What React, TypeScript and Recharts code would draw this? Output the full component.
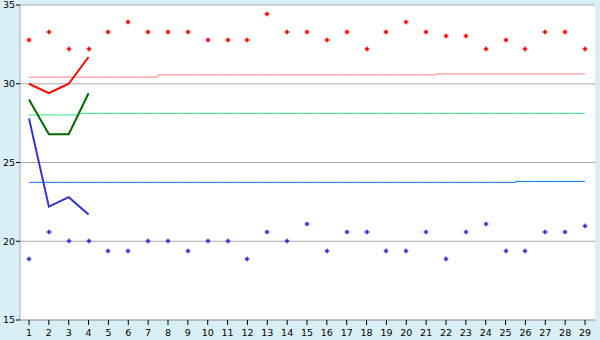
import { CartesianGrid, ComposedChart, Line, XAxis, YAxis } from "recharts";

const categories = Array.from({ length: 29 }, (_, i) => String(i + 1));

// short measured runs, first four days only
const redRun = [30.0, 29.4, 30.0, 31.7];
const greenRun = [29.0, 26.8, 26.8, 29.4];
const blueRun = [27.8, 22.2, 22.8, 21.7];

// daily readings
const redPoints = [
  32.8, 33.3, 32.2, 32.2, 33.3, 33.9, 33.3, 33.3, 33.3, 32.8, 32.8, 32.8, 34.4, 33.3, 33.3,
  32.8, 33.3, 32.2, 33.3, 33.9, 33.3, 33.0, 33.0, 32.2, 32.8, 32.2, 33.3, 33.3, 32.2,
];
const bluePoints = [
  18.9, 20.6, 20.0, 20.0, 19.4, 19.4, 20.0, 20.0, 19.4, 20.0, 20.0, 18.9, 20.6, 20.0, 21.1,
  19.4, 20.6, 20.6, 19.4, 19.4, 20.6, 18.9, 20.6, 21.1, 19.4, 19.4, 20.6, 20.6, 21.0,
];

// long-term averages (nearly flat)
const pinkAvg = [
  30.42, 30.42, 30.42, 30.42, 30.42, 30.42, 30.42, 30.56, 30.56, 30.56, 30.56, 30.56, 30.56,
  30.56, 30.56, 30.56, 30.56, 30.56, 30.56, 30.56, 30.56, 30.62, 30.62, 30.62, 30.62, 30.62,
  30.62, 30.62, 30.62,
];
const greenAvg = [
  28.02, 28.02, 28.02, 28.12, 28.12, 28.12, 28.12, 28.12, 28.12, 28.12, 28.12, 28.12, 28.12,
  28.12, 28.12, 28.12, 28.12, 28.12, 28.12, 28.12, 28.12, 28.12, 28.12, 28.12, 28.12, 28.12,
  28.12, 28.12, 28.12,
];
const blueAvg = [
  23.74, 23.74, 23.74, 23.74, 23.74, 23.74, 23.74, 23.74, 23.74, 23.74, 23.74, 23.74, 23.74,
  23.74, 23.74, 23.74, 23.74, 23.74, 23.74, 23.74, 23.74, 23.74, 23.74, 23.74, 23.74, 23.8,
  23.8, 23.8, 23.8,
];

const yTicks = [15, 20, 25, 30, 35];

const data = categories.map((cat, i) => ({
  cat,
  redRun: redRun[i] ?? null,
  greenRun: greenRun[i] ?? null,
  blueRun: blueRun[i] ?? null,
  redPts: redPoints[i],
  bluePts: bluePoints[i],
  pinkAvg: pinkAvg[i],
  greenAvg: greenAvg[i],
  blueAvg: blueAvg[i],
}));

const font = { fontFamily: "'DejaVu Sans', Verdana, sans-serif", fontSize: 9.5, fill: "#000" };

function plusDot(color: string) {
  return (p: any) => {
    const { cx, cy, index, value } = p;
    if (value == null || cx == null || cy == null) return <g key={`e-${index}`} />;
    const x = Math.round(cx);
    const y = Math.round(cy);
    return (
      <g key={`d-${index}`} fill={color}>
        <rect x={x - 1.5} y={y - 1.5} width={3} height={3} />
        <rect x={x - 0.5} y={y - 2.5} width={1} height={5} />
        <rect x={x - 2.5} y={y - 0.5} width={5} height={1} />
      </g>
    );
  };
}

export default function App() {
  return (
    <div
      style={{ position: "absolute", left: 0, top: 0, width: 600, height: 340, background: "#d9eff6" }}
    >
      <ComposedChart width={600} height={340} data={data} margin={{ top: 5, right: 5, bottom: 0, left: 0 }}>
        <CartesianGrid vertical={false} stroke="#aaa" fill="#fff" fillOpacity={1} />
        <XAxis
          dataKey="cat"
          interval={0}
          height={20}
          padding={{ left: 9, right: 10 }}
          tick={font}
          tickSize={5}
          tickMargin={4}
          tickLine={{ stroke: "#000" }}
          axisLine={{ stroke: "#aaa" }}
        />
        <YAxis
          domain={[15, 35]}
          ticks={yTicks}
          width={20}
          tick={font}
          tickSize={4}
          tickMargin={1}
          tickLine={{ stroke: "#000" }}
          axisLine={{ stroke: "#aaa" }}
        />
        <YAxis
          yAxisId="border"
          orientation="right"
          domain={[15, 35]}
          width={0}
          tick={false}
          tickLine={false}
          axisLine={{ stroke: "#aaa" }}
        />
        <Line type="step" dataKey="pinkAvg" stroke="#ff8080" strokeWidth={1} dot={false} activeDot={false} isAnimationActive={false} />
        <Line type="step" dataKey="greenAvg" stroke="#2ee882" strokeWidth={1} dot={false} activeDot={false} isAnimationActive={false} />
        <Line type="step" dataKey="blueAvg" stroke="#0a78ee" strokeWidth={1} dot={false} activeDot={false} isAnimationActive={false} />
        <Line type="linear" dataKey="redRun" stroke="#ff0000" strokeWidth={2} dot={false} activeDot={false} isAnimationActive={false} />
        <Line type="linear" dataKey="greenRun" stroke="#006600" strokeWidth={2} dot={false} activeDot={false} isAnimationActive={false} />
        <Line type="linear" dataKey="blueRun" stroke="#3333cc" strokeWidth={2} dot={false} activeDot={false} isAnimationActive={false} />
        <Line dataKey="redPts" stroke="none" dot={plusDot("#ff0000")} activeDot={false} isAnimationActive={false} />
        <Line dataKey="bluePts" stroke="none" dot={plusDot("#3333cc")} activeDot={false} isAnimationActive={false} />
      </ComposedChart>
    </div>
  );
}
